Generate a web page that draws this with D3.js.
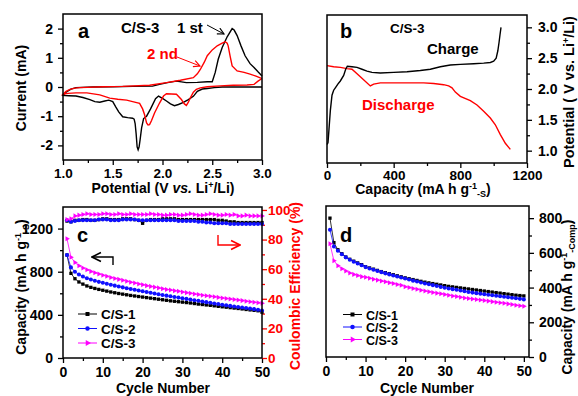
<!DOCTYPE html>
<html lang="en">
<head>
<meta charset="UTF-8">
<script src="https://d3js.org/d3.v7.min.js"></script>
<style>
  body { margin: 0; background: #fff; }
  svg text { font-family: "Liberation Sans", Arial, sans-serif; font-weight: bold; }
</style>
</head>
<body>
<svg id="canvas" width="578" height="396"></svg>
<script>
// ---- panel a: CV curves (potential V, current mA), loop starts at 3.0 V going cathodic
let cv1V = [3.00, 2.90, 2.80, 2.70, 2.60, 2.52, 2.45, 2.40, 2.35, 2.31, 2.26, 2.21, 2.16, 2.12, 2.08, 2.04, 2.00, 1.96, 1.93, 1.88, 1.84, 1.81, 1.79, 1.775, 1.765, 1.755, 1.745, 1.735, 1.725, 1.715, 1.70, 1.65, 1.60, 1.56, 1.53, 1.50, 1.46, 1.42, 1.37, 1.32, 1.27, 1.20, 1.13, 1.06, 1.00, 1.03, 1.08, 1.13, 1.30, 1.50, 1.70, 1.90, 1.97, 2.05, 2.14, 2.24, 2.35, 2.45, 2.50, 2.53, 2.56, 2.60, 2.65, 2.70, 2.72, 2.75, 2.79, 2.83, 2.88, 2.92, 2.96, 3.00]
let cv1I = [0.00, 0.00, 0.00, 0.00, 0.00, -0.02, -0.05, -0.07, -0.15, -0.32, -0.43, -0.53, -0.60, -0.64, -0.58, -0.48, -0.39, -0.31, -0.40, -0.75, -1.00, -1.08, -1.40, -1.80, -2.05, -2.15, -2.05, -1.60, -1.25, -1.10, -1.07, -1.05, -1.02, -0.85, -0.68, -0.50, -0.45, -0.48, -0.52, -0.50, -0.43, -0.36, -0.31, -0.30, -0.29, -0.18, -0.07, -0.02, 0.00, 0.01, 0.02, 0.03, 0.09, 0.15, 0.20, 0.15, 0.16, 0.18, 0.18, 0.50, 0.95, 1.35, 1.72, 2.00, 1.95, 1.76, 1.40, 1.07, 0.80, 0.67, 0.52, 0.38]
let cv2V = [3.00, 2.96, 2.92, 2.85, 2.71, 2.58, 2.45, 2.38, 2.34, 2.31, 2.28, 2.26, 2.24, 2.22, 2.19, 2.14, 2.09, 2.04, 2.01, 1.97, 1.92, 1.89, 1.87, 1.855, 1.84, 1.82, 1.80, 1.77, 1.70, 1.64, 1.55, 1.47, 1.37, 1.24, 1.13, 1.05, 1.00, 1.03, 1.07, 1.12, 1.17, 1.40, 1.60, 1.87, 2.04, 2.18, 2.31, 2.35, 2.38, 2.42, 2.45, 2.50, 2.55, 2.60, 2.63, 2.65, 2.66, 2.68, 2.70, 2.75, 2.82, 2.88, 2.94, 3.00]
let cv2I = [0.29, 0.20, 0.09, 0.07, 0.06, 0.04, 0.01, -0.03, -0.08, -0.18, -0.37, -0.52, -0.63, -0.58, -0.43, -0.25, -0.24, -0.23, -0.31, -0.55, -0.89, -1.15, -1.29, -1.30, -1.23, -0.95, -0.75, -0.56, -0.50, -0.45, -0.42, -0.38, -0.27, -0.20, -0.20, -0.22, -0.25, -0.15, -0.08, -0.04, -0.02, 0.01, 0.02, 0.06, 0.15, 0.23, 0.32, 0.45, 0.60, 0.85, 1.07, 1.27, 1.41, 1.50, 1.55, 1.50, 1.41, 1.05, 0.72, 0.55, 0.50, 0.44, 0.37, 0.29]

// ---- panel b: charge / discharge profiles
let chargeCap = [1, 6, 12, 20, 30, 40, 50, 65, 80, 100, 112, 122, 150, 180, 210, 240, 270, 320, 400, 480, 560, 620, 680, 740, 800, 880, 940, 980, 1000, 1015, 1025, 1032, 1038, 1044]
let chargeV = [1.10, 1.13, 1.35, 1.65, 1.90, 1.98, 2.02, 2.08, 2.13, 2.22, 2.32, 2.37, 2.36, 2.35, 2.32, 2.29, 2.27, 2.26, 2.27, 2.28, 2.30, 2.32, 2.36, 2.39, 2.40, 2.41, 2.42, 2.43, 2.45, 2.50, 2.62, 2.75, 2.88, 3.00]
let dischargeCap = [0, 40, 80, 120, 150, 200, 260, 280, 320, 400, 500, 580, 640, 700, 730, 750, 770, 800, 860, 900, 940, 980, 1010, 1040, 1070, 1100]
let dischargeV = [2.38, 2.36, 2.35, 2.33, 2.32, 2.20, 2.05, 2.08, 2.10, 2.10, 2.10, 2.10, 2.09, 2.07, 2.05, 2.02, 1.95, 1.88, 1.81, 1.74, 1.64, 1.53, 1.42, 1.26, 1.12, 1.02]

// ---- panels c, d: cycling
let cycles = d3.range(1, 51)
let seriesNames = ['C/S-1', 'C/S-2', 'C/S-3']
let capC1 = [955, 785, 735, 705, 685, 668, 655, 645, 636, 628, 620, 612, 605, 598, 592, 586, 580, 575, 570, 565, 560, 555, 550, 545, 540, 535, 530, 526, 522, 518, 514, 510, 505, 500, 496, 492, 488, 484, 479, 475, 471, 467, 463, 459, 455, 450, 446, 442, 438, 425]
let capC2 = [955, 840, 800, 775, 755, 740, 728, 716, 706, 697, 688, 679, 671, 663, 655, 647, 640, 633, 626, 619, 612, 605, 598, 591, 584, 578, 572, 566, 560, 554, 548, 542, 536, 530, 524, 518, 512, 506, 500, 494, 488, 483, 478, 473, 468, 463, 458, 453, 448, 440]
let capC3 = [1105, 935, 885, 855, 835, 818, 803, 790, 778, 767, 757, 747, 738, 729, 720, 711, 703, 695, 687, 679, 671, 664, 657, 650, 643, 636, 630, 624, 618, 612, 606, 600, 594, 588, 582, 577, 572, 567, 562, 557, 552, 547, 542, 537, 532, 527, 522, 517, 512, 507]
let ceC1 = [92.5, 92, 93, 93, 93.5, 93.5, 93, 93, 93.5, 94, 94, 93.5, 93.5, 93.5, 94, 94, 94, 93.5, 93, 91, 93, 93.5, 93.5, 93.5, 94, 94, 94, 94, 93.5, 93.5, 93.5, 93.5, 93.5, 93.5, 93.5, 93.5, 93.5, 93.5, 93, 93, 92.5, 92, 92, 91.5, 91.5, 91.5, 91.5, 91.5, 91.5, 91.5]
let ceC2 = [93, 92, 92.5, 93, 93, 93, 93, 93, 93.5, 93.5, 93.5, 93, 93, 93, 93.5, 93.5, 93.5, 93.5, 93, 93, 93, 93, 93, 93, 93, 93, 93, 93, 92.5, 92.5, 92.5, 92.5, 92.5, 92, 92, 91.5, 91.5, 91, 91, 91, 91, 90.5, 90.5, 90.5, 90.5, 90.5, 90.5, 90.5, 90.5, 90.5]
let ceC3 = [93.5, 94, 96, 96.5, 97, 97.5, 97, 97, 97, 97.5, 97.5, 97, 97, 97.5, 97, 97, 97.5, 97, 97, 97, 97, 97.5, 97, 97, 96.5, 96.5, 97, 97, 96.5, 96.5, 97, 97.5, 97, 96.5, 96.5, 97, 97.5, 97, 96.5, 96.5, 97, 96.5, 97, 96, 96, 96.5, 96, 96, 96, 96]
let capD1 = [800, 659, 618, 595, 576, 563, 552, 542, 532, 520, 513, 506, 499, 492, 486, 480, 474, 468, 462, 456, 451, 446, 441, 436, 431, 427, 423, 419, 415, 411, 407, 404, 401, 398, 395, 392, 389, 386, 383, 380, 377, 374, 371, 368, 365, 362, 359, 356, 354, 352]
let capD2 = [733, 637, 612, 592, 574, 560, 549, 539, 529, 518, 510, 503, 496, 489, 482, 476, 470, 464, 458, 452, 446, 440, 435, 429, 424, 419, 414, 409, 404, 399, 395, 391, 387, 383, 379, 375, 371, 368, 365, 362, 359, 356, 353, 350, 347, 344, 341, 338, 335, 332]
let capD3 = [652, 555, 526, 508, 495, 484, 476, 469, 463, 460, 454, 448, 443, 438, 433, 428, 423, 418, 413, 405, 400, 395, 390, 385, 380, 376, 372, 368, 364, 360, 356, 352, 348, 344, 340, 337, 334, 331, 328, 325, 322, 319, 316, 313, 310, 306, 302, 298, 295, 292]

let colors = ['#000000', '#1010ff', '#ff00ff']
let red = '#ff0000'

let svg = d3.select('#canvas')

let defs = svg.append('defs')
let addHead = (id, color) => {
    defs.append('marker').attr('id', id)
        .attr('viewBox', '0 0 10 10').attr('refX', 9).attr('refY', 5)
        .attr('markerWidth', 8).attr('markerHeight', 8).attr('orient', 'auto')
        .append('path').attr('d', 'M1,1 L9,5 L1,9')
        .attr('fill', 'none').attr('stroke', color).attr('stroke-width', 1.4)
}
addHead('headBlack', '#000')
addHead('headRed', red)

// axis helper: major + minor ticks, outward
let drawAxis = (g, axisFn, scale, major, minor, labelFmt, color, pad, size) => {
    let minorAx = axisFn(scale).tickValues(minor).tickSize(3).tickFormat('')
    g.append('g').call(minorAx)
    let majorAx = axisFn(scale).tickValues(major).tickSize(5).tickPadding(pad).tickFormat(labelFmt)
    let ax = g.append('g').call(majorAx)
    g.selectAll('.domain').remove()
    g.selectAll('line').attr('stroke', color).attr('stroke-width', 1.3)
    ax.selectAll('text').attr('fill', color).style('font-size', (size || 14) + 'px')
}

let frame = (x, y) => {
    svg.append('rect')
        .attr('x', x.range()[0]).attr('y', y.range()[1])
        .attr('width', x.range()[1] - x.range()[0])
        .attr('height', y.range()[0] - y.range()[1])
        .attr('fill', 'none').attr('stroke', '#000').attr('stroke-width', 1.5)
}

let label = (txt, x, y, size, color, anchor) => {
    return svg.append('text').attr('x', x).attr('y', y)
        .attr('fill', color || '#000').attr('text-anchor', anchor || 'start')
        .style('font-size', size + 'px').text(txt)
}

let vLabel = (x, y, size, color) => {
    return svg.append('text')
        .attr('transform', 'translate(' + x + ',' + y + ') rotate(-90)')
        .attr('text-anchor', 'middle').attr('fill', color)
        .style('font-size', size + 'px')
}

let fmt1 = d3.format('.1f')
let plain = (d) => String(d)

// ================= panel a =================
let xA = d3.scaleLinear().domain([1, 3]).range([63, 262])
let yA = d3.scaleLinear().domain([-2.5, 2.5]).range([160, 14])

drawAxis(svg.append('g').attr('transform', 'translate(0,160)'), d3.axisBottom, xA,
    [1, 1.5, 2, 2.5, 3], [1.25, 1.75, 2.25, 2.75], fmt1, '#000', 3, 13.5)
drawAxis(svg.append('g').attr('transform', 'translate(63,0)'), d3.axisLeft, yA,
    [-2, -1, 0, 1, 2], [-1.5, -0.5, 0.5, 1.5], plain, '#000', 5)

let lineA = d3.line().x((d) => xA(d[0])).y((d) => yA(d[1]))
svg.append('path').datum(d3.zip(cv1V, cv1I)).attr('d', lineA)
    .attr('fill', 'none').attr('stroke', '#000').attr('stroke-width', 1.4)
svg.append('path').datum(d3.zip(cv2V, cv2I)).attr('d', lineA)
    .attr('fill', 'none').attr('stroke', red).attr('stroke-width', 1.4)
frame(xA, yA)

label('a', 78, 38, 20)
label('C/S-3', 121, 33, 15)
label('1 st', 177, 33, 15)
label('2 nd', 147, 59, 15, red)
svg.append('line').attr('x1', 207).attr('y1', 25).attr('x2', 224).attr('y2', 34)
    .attr('stroke', '#000').attr('stroke-width', 1).attr('marker-end', 'url(#headBlack)')
svg.append('line').attr('x1', 177).attr('y1', 57).attr('x2', 200).attr('y2', 66)
    .attr('stroke', red).attr('stroke-width', 1).attr('marker-end', 'url(#headRed)')

vLabel(26, 88, 14, '#000').text('Current (mA)')
let tA = label('', 163, 193, 14, '#000', 'middle')
tA.append('tspan').text('Potential (V ')
tA.append('tspan').style('font-style', 'italic').text('vs.')
tA.append('tspan').text(' Li')
tA.append('tspan').attr('dy', -5).style('font-size', '9px').text('+')
tA.append('tspan').attr('dy', 5).text('/Li)')

// ================= panel b =================
let xB = d3.scaleLinear().domain([0, 1200]).range([327, 527])
let yB = d3.scaleLinear().domain([0.8, 3.2]).range([163, 15])

drawAxis(svg.append('g').attr('transform', 'translate(0,163)'), d3.axisBottom, xB,
    [0, 400, 800, 1200], [200, 600, 1000], plain, '#000', 2, 13.5)
drawAxis(svg.append('g').attr('transform', 'translate(527,0)'), d3.axisRight, yB,
    [1, 1.5, 2, 2.5, 3], [1.25, 1.75, 2.25, 2.75], fmt1, '#000', 6)

let lineB = d3.line().x((d) => xB(d[0])).y((d) => yB(d[1]))
svg.append('path').datum(d3.zip(dischargeCap, dischargeV)).attr('d', lineB)
    .attr('fill', 'none').attr('stroke', red).attr('stroke-width', 1.4)
svg.append('path').datum(d3.zip(chargeCap, chargeV)).attr('d', lineB)
    .attr('fill', 'none').attr('stroke', '#000').attr('stroke-width', 1.4)
frame(xB, yB)

label('b', 340, 38, 20)
label('C/S-3', 390, 33, 13.5)
label('Charge', 427, 54, 15)
label('Discharge', 362, 110, 15, red)

let tB = vLabel(574, 92, 14.5, '#000')
tB.append('tspan').text('Potential ( V vs. Li')
tB.append('tspan').attr('dy', -5).style('font-size', '9px').text('+')
tB.append('tspan').attr('dy', 5).text('/Li)')

let tB2 = label('', 423, 194, 14, '#000', 'middle')
tB2.append('tspan').text('Capacity (mA h g')
tB2.append('tspan').attr('dy', -5).style('font-size', '9px').text('-1')
tB2.append('tspan').attr('dy', 8).style('font-size', '9px').text('-S')
tB2.append('tspan').attr('dy', -3).text(')')

// ================= markers =================
let shapes = [
    d3.symbol().type(d3.symbolSquare).size(11),
    d3.symbol().type(d3.symbolCircle).size(13),
    d3.symbol().type(d3.symbolTriangle).size(11)
]
let drawSeries = (xs, ys, vals, i) => {
    let pts = cycles.map((c, k) => [xs(c), ys(vals[k])])
    svg.append('path').datum(pts).attr('d', d3.line())
        .attr('fill', 'none').attr('stroke', colors[i]).attr('stroke-width', 0.8)
    svg.append('g').selectAll('path').data(pts).enter().append('path')
        .attr('d', shapes[i])
        .attr('transform', (p) => 'translate(' + p[0] + ',' + p[1] + ')' + (i === 2 ? ' rotate(90)' : ''))
        .attr('fill', colors[i])
}
let legend = (x0, ys, size) => {
    seriesNames.forEach((name, i) => {
        svg.append('line').attr('x1', x0).attr('x2', x0 + 19).attr('y1', ys[i]).attr('y2', ys[i])
            .attr('stroke', colors[i]).attr('stroke-width', 1)
        svg.append('path').attr('d', shapes[i].size(16)())
            .attr('transform', 'translate(' + (x0 + 9.5) + ',' + ys[i] + ')' + (i === 2 ? ' rotate(90)' : ''))
            .attr('fill', colors[i])
        shapes[i].size(i === 1 ? 13 : 11)
        label(name, x0 + 23, ys[i] + 5, size)
    })
}

// ================= panel c =================
let xC = d3.scaleLinear().domain([0, 50]).range([63, 262])
let yC = d3.scaleLinear().domain([0, 1400]).range([358, 207])
let yCe = d3.scaleLinear().domain([0, 102]).range([358, 207])

drawAxis(svg.append('g').attr('transform', 'translate(0,358)'), d3.axisBottom, xC,
    [0, 10, 20, 30, 40, 50], [5, 15, 25, 35, 45], plain, '#000', 4)
drawAxis(svg.append('g').attr('transform', 'translate(63,0)'), d3.axisLeft, yC,
    [0, 400, 800, 1200], [200, 600, 1000], plain, '#000', 5)
drawAxis(svg.append('g').attr('transform', 'translate(262,0)'), d3.axisRight, yCe,
    [0, 20, 40, 60, 80, 100], [10, 30, 50, 70, 90], plain, red, 1, 13.5)

;[capC1, capC2, capC3].forEach((vals, i) => drawSeries(xC, yC, vals, i))
;[ceC1, ceC2, ceC3].forEach((vals, i) => drawSeries(xC, yCe, vals, i))
frame(xC, yC)

label('c', 77, 242, 20)
legend(78, [314, 328.5, 343], 13.5)
svg.append('path').attr('d', 'M113,265 V257 H92')
    .attr('fill', 'none').attr('stroke', '#000').attr('stroke-width', 1.4).attr('marker-end', 'url(#headBlack)')
svg.append('path').attr('d', 'M218,235 V245 H240')
    .attr('fill', 'none').attr('stroke', red).attr('stroke-width', 1.4).attr('marker-end', 'url(#headRed)')

let tC = vLabel(26, 287, 14, '#000')
tC.append('tspan').text('Capacity (mA h g')
tC.append('tspan').attr('dy', -5).style('font-size', '9px').text('-1')
tC.append('tspan').attr('dy', 8).style('font-size', '9px').text('-S')
tC.append('tspan').attr('dy', -3).text(')')
vLabel(300, 286, 14, red).text('Coulombic Efficiency (%)')
label('Cycle Number', 163, 393, 14, '#000', 'middle')

// ================= panel d =================
let xD = d3.scaleLinear().domain([0, 51.3]).range([326, 529])
let yD = d3.scaleLinear().domain([0, 870]).range([357, 206])

drawAxis(svg.append('g').attr('transform', 'translate(0,357)'), d3.axisBottom, xD,
    [0, 10, 20, 30, 40, 50], [5, 15, 25, 35, 45], plain, '#000', 4)
drawAxis(svg.append('g').attr('transform', 'translate(529,0)'), d3.axisRight, yD,
    [0, 200, 400, 600, 800], [100, 300, 500, 700], plain, '#000', 5)

;[capD1, capD2, capD3].forEach((vals, i) => drawSeries(xD, yD, vals, i))
frame(xD, yD)

label('d', 340, 242, 20)
legend(343, [314.5, 327, 339.5], 12.5)

let tD = vLabel(572, 297, 14, '#000')
tD.append('tspan').text('Capacity (mA h g')
tD.append('tspan').attr('dy', -5).style('font-size', '9px').text('-1')
tD.append('tspan').attr('dy', 8).style('font-size', '9px').text('-Comp')
tD.append('tspan').attr('dy', -3).text(')')
label('Cycle Number', 427, 393, 14, '#000', 'middle')
</script>
</body>
</html>
